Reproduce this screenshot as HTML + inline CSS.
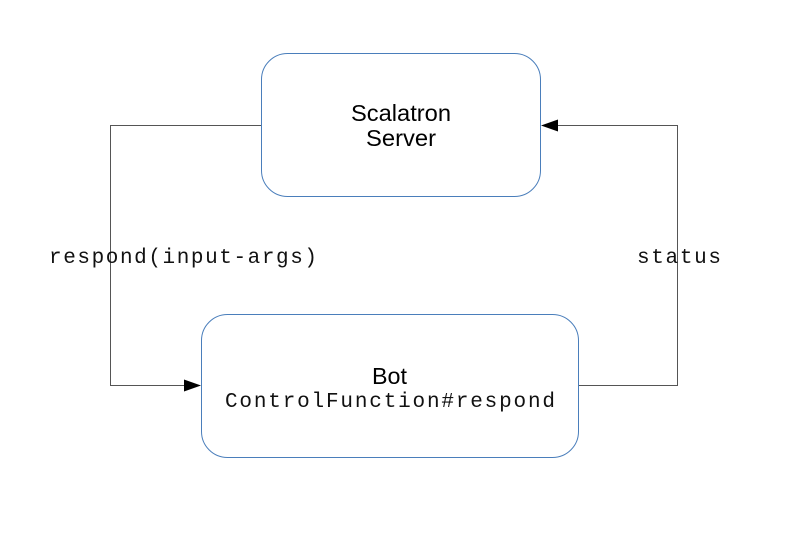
<!DOCTYPE html>
<html><head><style>
body{margin:0;background:#fff;}
svg{display:block;}
</style></head><body>
<svg width="794" height="559" xmlns="http://www.w3.org/2000/svg">
<rect x="0" y="0" width="794" height="559" fill="#fff"/>
<rect x="261.5" y="53.5" width="279" height="143" rx="26" fill="#fff" stroke="#4a7ebb" stroke-width="1"/>
<rect x="201.5" y="314.5" width="377" height="143" rx="26" fill="#fff" stroke="#4a7ebb" stroke-width="1"/>
<polyline points="261,125.5 110.5,125.5 110.5,385.5 185,385.5" fill="none" stroke="#555" stroke-width="1"/>
<polygon points="201,385.5 184,379.5 184,391.5" fill="#000"/>
<polyline points="579,385.5 677.5,385.5 677.5,125.5 557,125.5" fill="none" stroke="#555" stroke-width="1"/>
<polygon points="541,125.5 558,119.5 558,131.5" fill="#000"/>
<g font-family="Liberation Sans, sans-serif" font-size="23" fill="#000">
<text x="351" y="121" textLength="100" lengthAdjust="spacingAndGlyphs">Scalatron</text>
<text x="366" y="146" textLength="70" lengthAdjust="spacingAndGlyphs">Server</text>
<text x="372" y="384" textLength="35" lengthAdjust="spacingAndGlyphs">Bot</text>
</g>
<g font-family="Liberation Mono, monospace" font-size="21" fill="#111">
<text x="49" y="263" textLength="268" lengthAdjust="spacing">respond(input-args)</text>
<text x="637" y="263" textLength="84" lengthAdjust="spacing">status</text>
<text x="225" y="407" textLength="330" lengthAdjust="spacing">ControlFunction#respond</text>
</g>
</svg>
</body></html>
